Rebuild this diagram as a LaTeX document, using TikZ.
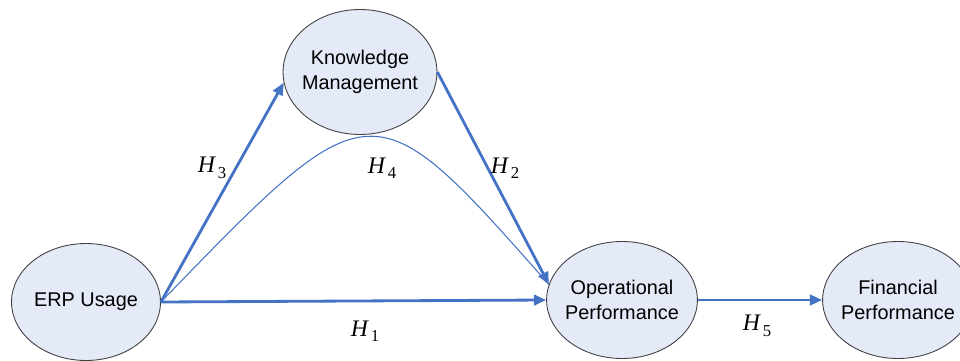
\documentclass[tikz,border=0pt]{standalone}
\usepackage{fontspec}
\setmainfont{Liberation Serif}
\setsansfont{Liberation Sans}
\usetikzlibrary{shapes.geometric,arrows.meta}
\definecolor{linkblue}{RGB}{68,114,196}
\definecolor{bubble}{RGB}{228,234,247}
\tikzstyle{construct}=[ellipse, draw=black!75, line width=0.5pt, fill=bubble, minimum width=2.98cm, minimum height=2.34cm, inner sep=-2pt, align=center, font=\sffamily\fontsize{11.3}{14}\selectfont]
\tikzstyle{link}=[draw=linkblue, line width=1.6pt, -{Triangle[length=7pt,width=6pt]}]
\tikzstyle{weak}=[draw=linkblue, line width=0.6pt]
\tikzstyle{hyp}=[font=\fontsize{13.5}{15}\selectfont]
\newcommand{\hyp}[1]{\textit{H}\kern1pt\raisebox{-0.5ex}{\fontsize{9.5}{10}\selectfont #1}}

\begin{document}
\begin{tikzpicture}[x=0.02cm, y=-0.02cm]
	\useasboundingbox (0,0) rectangle (960,361);

	\node[construct](erp) at (86,302){ERP Usage};
	\node[construct, minimum height=2.5cm](km) at (360,72){Knowledge\\Management};
	\node[construct](op) at (622,300){Operational\\Performance};
	\node[construct](fp) at (898,300){Financial\\Performance};

	\draw[link] (erp.east) -- (km.188);
	\draw[link] (km.east) -- (op.168);
	\draw[link] (erp.east) -- (op.west);
	\draw[link] (op.east) -- (fp.west);
	% mediated path through knowledge management
	\draw[weak] (erp.east) .. controls (372,84) .. (op.168);

	\node[hyp](h3) at (212,168){\hyp{3}};
	\node[hyp](h4) at (382,168){\hyp{4}};
	\node[hyp](h2) at (505,168){\hyp{2}};
	\node[hyp](h1) at (365,331){\hyp{1}};
	\node[hyp](h5) at (757,326){\hyp{5}};
\end{tikzpicture}
\end{document}
